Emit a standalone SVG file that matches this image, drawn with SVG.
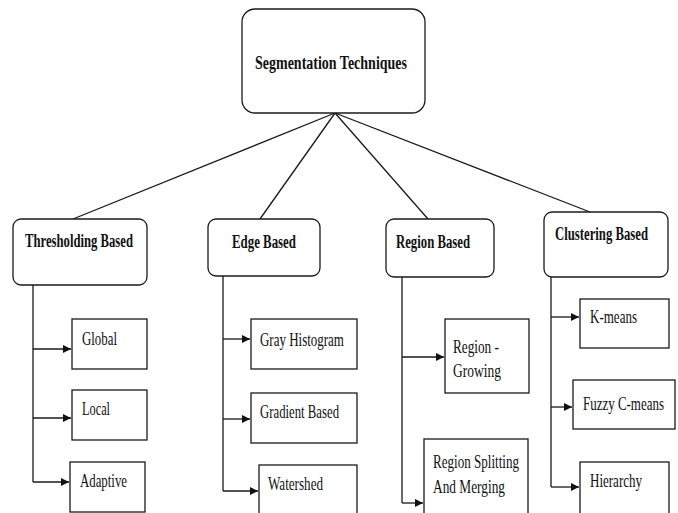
<svg xmlns="http://www.w3.org/2000/svg" width="678" height="513" viewBox="0 0 678 513">
<style>
.box{fill:#fff;stroke:#1a1a1a;stroke-width:1.3}
.t{font-family:"Liberation Serif","Times New Roman",serif;font-size:19px;fill:#111}
.b{font-weight:bold}
.c{fill:none;stroke:#1a1a1a;stroke-width:1.3}
.a{fill:none;stroke:#1a1a1a;stroke-width:1.3;marker-end:url(#arr)}
</style>
<defs>
<marker id="arr" markerUnits="userSpaceOnUse" markerWidth="9" markerHeight="9" refX="8" refY="4" orient="auto">
<path d="M0,0 L8,4 L0,8 z" fill="#111"/>
</marker>
</defs>
<rect width="678" height="513" fill="#fff"/>
<g id="connectors">
<line class="c" x1="335" y1="113" x2="73" y2="219"/>
<line class="c" x1="335" y1="113" x2="260" y2="219"/>
<line class="c" x1="335" y1="113" x2="428" y2="219"/>
<line class="c" x1="335" y1="113" x2="590" y2="212"/>
<polyline class="c" points="33,285 33,482"/>
<line class="a" x1="33" y1="349" x2="71" y2="349"/>
<line class="a" x1="33" y1="418" x2="71" y2="418"/>
<line class="a" x1="33" y1="482" x2="69" y2="482"/>
<polyline class="c" points="223,276 223,491"/>
<line class="a" x1="223" y1="339" x2="250" y2="339"/>
<line class="a" x1="223" y1="419" x2="250" y2="419"/>
<line class="a" x1="223" y1="491" x2="258" y2="491"/>
<polyline class="c" points="402,277 402,503"/>
<line class="a" x1="402" y1="357" x2="444" y2="357"/>
<line class="a" x1="402" y1="503" x2="423" y2="503"/>
<polyline class="c" points="551,277 551,487"/>
<line class="a" x1="551" y1="317" x2="579" y2="317"/>
<line class="a" x1="551" y1="407" x2="572" y2="407"/>
<line class="a" x1="551" y1="487" x2="579" y2="487"/>
</g>
<g id="root">
<rect class="box" x="242" y="9" width="183" height="104" rx="13"/>
<text class="t b" transform="translate(255,69) scale(0.68,1)" textLength="223.5" lengthAdjust="spacingAndGlyphs">Segmentation Techniques</text>
</g>
<g id="thresholding">
<rect class="box" x="13" y="219" width="134" height="66" rx="8"/>
<text class="t b" transform="translate(25,247) scale(0.68,1)" textLength="158.8" lengthAdjust="spacingAndGlyphs">Thresholding Based</text>
</g>
<g id="edge">
<rect class="box" x="208" y="219" width="112" height="57" rx="8"/>
<text class="t b" transform="translate(232,248) scale(0.68,1)" textLength="94.1" lengthAdjust="spacingAndGlyphs">Edge Based</text>
</g>
<g id="region">
<rect class="box" x="386" y="219" width="108" height="58" rx="8"/>
<text class="t b" transform="translate(396,248) scale(0.68,1)" textLength="108.8" lengthAdjust="spacingAndGlyphs">Region Based</text>
</g>
<g id="clustering">
<rect class="box" x="544" y="212" width="124" height="65" rx="8"/>
<text class="t b" transform="translate(555,240) scale(0.68,1)" textLength="136.8" lengthAdjust="spacingAndGlyphs">Clustering Based</text>
</g>
<g id="global">
<rect class="box" x="72" y="319" width="75" height="50"/>
<text class="t" transform="translate(82,345) scale(0.68,1)" textLength="51.5" lengthAdjust="spacingAndGlyphs">Global</text>
</g>
<g id="local">
<rect class="box" x="72" y="390" width="75" height="50"/>
<text class="t" transform="translate(82,415) scale(0.68,1)" textLength="41.2" lengthAdjust="spacingAndGlyphs">Local</text>
</g>
<g id="adaptive">
<rect class="box" x="70" y="462" width="75" height="50"/>
<text class="t" transform="translate(80,487) scale(0.68,1)" textLength="69.1" lengthAdjust="spacingAndGlyphs">Adaptive</text>
</g>
<g id="gray-histogram">
<rect class="box" x="251" y="319" width="106" height="50"/>
<text class="t" transform="translate(260,346) scale(0.68,1)" textLength="123.5" lengthAdjust="spacingAndGlyphs">Gray Histogram</text>
</g>
<g id="gradient-based">
<rect class="box" x="251" y="393" width="106" height="50"/>
<text class="t" transform="translate(260,418) scale(0.68,1)" textLength="116.2" lengthAdjust="spacingAndGlyphs">Gradient Based</text>
</g>
<g id="watershed">
<rect class="box" x="259" y="465" width="98" height="60"/>
<text class="t" transform="translate(268,490) scale(0.68,1)" textLength="80.9" lengthAdjust="spacingAndGlyphs">Watershed</text>
</g>
<g id="region-growing">
<rect class="box" x="445" y="319" width="84" height="74"/>
<text class="t" transform="translate(453,353) scale(0.68,1)" textLength="67.6" lengthAdjust="spacingAndGlyphs">Region -</text>
<text class="t" transform="translate(453,377) scale(0.68,1)" textLength="70.6" lengthAdjust="spacingAndGlyphs">Growing</text>
</g>
<g id="region-splitting">
<rect class="box" x="424" y="439" width="104" height="90"/>
<text class="t" transform="translate(433,468) scale(0.68,1)" textLength="126.5" lengthAdjust="spacingAndGlyphs">Region Splitting</text>
<text class="t" transform="translate(433,493) scale(0.68,1)" textLength="105.9" lengthAdjust="spacingAndGlyphs">And Merging</text>
</g>
<g id="k-means">
<rect class="box" x="580" y="299" width="89" height="49"/>
<text class="t" transform="translate(590,323) scale(0.68,1)" textLength="69.1" lengthAdjust="spacingAndGlyphs">K-means</text>
</g>
<g id="fuzzy-c-means">
<rect class="box" x="573" y="380" width="102" height="49"/>
<text class="t" transform="translate(583,410) scale(0.68,1)" textLength="119.1" lengthAdjust="spacingAndGlyphs">Fuzzy C-means</text>
</g>
<g id="hierarchy">
<rect class="box" x="580" y="462" width="89" height="60"/>
<text class="t" transform="translate(590,487) scale(0.68,1)" textLength="76.5" lengthAdjust="spacingAndGlyphs">Hierarchy</text>
</g>
</svg>
